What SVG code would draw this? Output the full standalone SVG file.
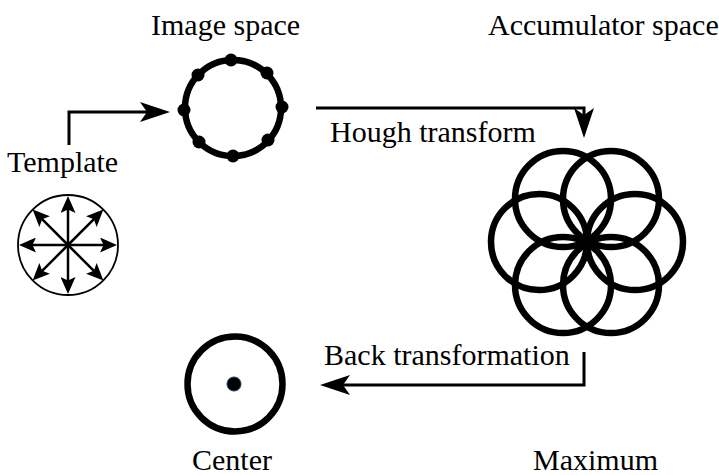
<svg xmlns="http://www.w3.org/2000/svg" width="719" height="475" viewBox="0 0 719 475">
<style>
.lbl{font-family:"Liberation Serif","Times New Roman",serif;font-size:30px;fill:#000}
.ring{fill:none;stroke:#000;stroke-width:6.5}
.conn{fill:none;stroke:#000;stroke-width:3;stroke-linejoin:miter}
.dir{fill:none;stroke:#000;stroke-width:2.5}
.dot{fill:#000}
</style>
<defs>
<marker id="big" viewBox="0 0 30 20" refX="8" refY="10" markerWidth="30" markerHeight="20" markerUnits="userSpaceOnUse" orient="auto">
<path d="M0,0 L30,10 L0,20 L7,10 Z" fill="#000"/>
</marker>
<marker id="small" viewBox="0 0 17 15" refX="5" refY="7.5" markerWidth="17" markerHeight="15" markerUnits="userSpaceOnUse" orient="auto">
<path d="M0,0 L17,7.5 L0,15 L3.5,7.5 Z" fill="#000"/>
</marker>
</defs>
<g id="connectors">
<path class="conn" d="M69,145 V112 H148" marker-end="url(#big)"/>
<path class="conn" d="M316,108 H584 V116" marker-end="url(#big)"/>
<path class="conn" d="M584,352 V385 H342" marker-end="url(#big)"/>
</g>
<g id="template">
<circle cx="68" cy="245" r="50" fill="none" stroke="#000" stroke-width="1.8"/>
<g class="dirs">
<line class="dir" x1="68" y1="245" x2="105" y2="245" marker-end="url(#small)"/>
<line class="dir" x1="68" y1="245" x2="31" y2="245" marker-end="url(#small)"/>
<line class="dir" x1="68" y1="245" x2="68" y2="208" marker-end="url(#small)"/>
<line class="dir" x1="68" y1="245" x2="68" y2="282" marker-end="url(#small)"/>
<line class="dir" x1="68" y1="245" x2="94.9" y2="218.1" marker-end="url(#small)"/>
<line class="dir" x1="68" y1="245" x2="41.1" y2="218.1" marker-end="url(#small)"/>
<line class="dir" x1="68" y1="245" x2="94.9" y2="271.9" marker-end="url(#small)"/>
<line class="dir" x1="68" y1="245" x2="41.1" y2="271.9" marker-end="url(#small)"/>
</g>
<text class="lbl" x="7" y="172">Template</text>
</g>
<g id="image-space">
<circle class="ring" cx="233" cy="108" r="48"/>
<circle class="dot" cx="231" cy="60" r="6.5"/>
<circle class="dot" cx="233" cy="156" r="6.5"/>
<circle class="dot" cx="184" cy="110" r="6.5"/>
<circle class="dot" cx="282" cy="107" r="6.5"/>
<circle class="dot" cx="198" cy="75" r="6.5"/>
<circle class="dot" cx="267" cy="73" r="6.5"/>
<circle class="dot" cx="199" cy="142" r="6.5"/>
<circle class="dot" cx="268" cy="140" r="6.5"/>
<text class="lbl" x="151" y="35">Image space</text>
</g>
<g id="accumulator-space">
<circle class="ring" cx="539" cy="242" r="48"/>
<circle class="ring" cx="635" cy="242" r="48"/>
<circle class="ring" cx="563" cy="199" r="48"/>
<circle class="ring" cx="611" cy="199" r="48"/>
<circle class="ring" cx="563" cy="285" r="48"/>
<circle class="ring" cx="611" cy="285" r="48"/>
<text class="lbl" x="488" y="35">Accumulator space</text>
</g>
<g id="hough-label"><text class="lbl" x="330" y="142">Hough transform</text></g>
<g id="back-label"><text class="lbl" x="324" y="365">Back transformation</text></g>
<g id="center">
<circle class="ring" cx="235" cy="384" r="47.5"/>
<circle cx="234" cy="384" r="7" fill="#000" stroke="#1b3a7a" stroke-width="1"/>
<text class="lbl" x="192" y="470">Center</text>
</g>
<g id="maximum"><text class="lbl" x="533" y="470">Maximum</text></g>
</svg>
